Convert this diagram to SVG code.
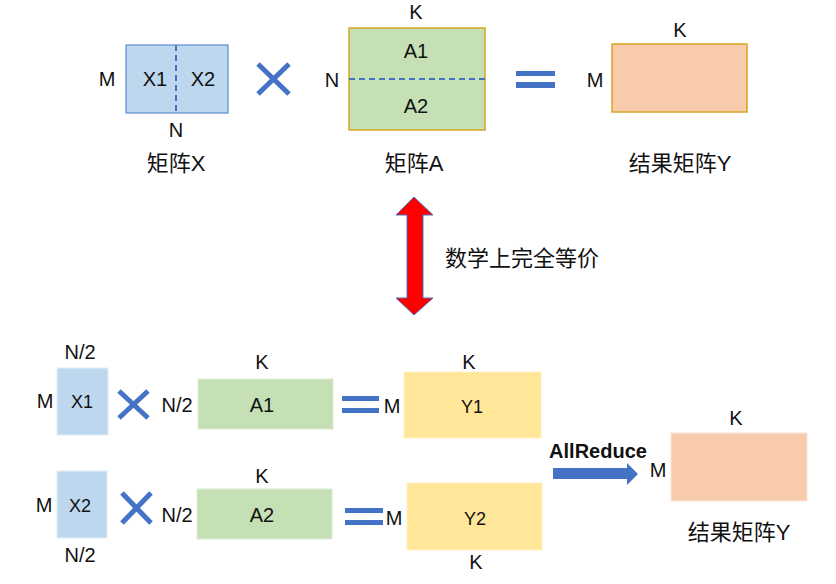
<svg xmlns="http://www.w3.org/2000/svg" width="836" height="584" viewBox="0 0 836 584">
<style>
text{font-family:"Liberation Sans",Arial,"Noto Sans CJK SC",sans-serif;fill:#111;text-anchor:middle}
.lb{font-size:20px}
.sm{font-size:18px}
.cj{font-size:22px}
.bx{fill:#BDD7EE}
.ga{fill:#C5E0B4}
.ya{fill:#FFE699}
.ra{fill:#F8CBAD}
.cross{stroke:#4472C4;stroke-width:5;fill:none}
.eq{fill:#4472C4}
.dash{stroke:#4472C4;stroke-width:2;stroke-dasharray:6 4;fill:none}
.soft{stroke:#E4EEF8;stroke-width:1}
</style>
<rect width="836" height="584" fill="#fff"/>

<g id="matrixX">
<rect x="126" y="45" width="102" height="68" class="bx" stroke="#5B8BD0" stroke-width="1.2"/>
<line x1="176" y1="45" x2="176" y2="113" class="dash"/>
<text x="107" y="86" class="lb">M</text>
<text x="155" y="86" class="lb">X1</text>
<text x="203" y="86" class="lb">X2</text>
<text x="176" y="137" class="lb">N</text>
<text x="176" y="171" class="cj">矩阵X</text>
</g>

<g id="times1">
<line x1="258" y1="64" x2="289" y2="94" class="cross"/>
<line x1="258" y1="94" x2="289" y2="64" class="cross"/>
</g>

<g id="matrixA">
<rect x="349" y="28" width="136" height="102" class="ga" stroke="#D6A520" stroke-width="1.5"/>
<line x1="349" y1="79" x2="485" y2="79" class="dash"/>
<text x="416" y="19" class="lb">K</text>
<text x="416" y="58" class="lb">A1</text>
<text x="416" y="113" class="lb">A2</text>
<text x="332" y="87" class="lb">N</text>
<text x="414" y="171" class="cj">矩阵A</text>
</g>

<g id="equals1">
<rect x="516" y="71" width="39" height="5" class="eq"/>
<rect x="516" y="82" width="39" height="6" class="eq"/>
</g>

<g id="resultY">
<rect x="612" y="44" width="135" height="68" class="ra" stroke="#D6A520" stroke-width="1.5"/>
<text x="680" y="37" class="lb">K</text>
<text x="595" y="87" class="lb">M</text>
<text x="680" y="171" class="cj">结果矩阵Y</text>
</g>

<g id="equivArrow">
<polygon points="414,197 433,215 423,215 423,298 433,298 414,315 396,298 407,298 407,215 396,215" fill="#FF0000" stroke="#4472C4" stroke-width="1"/>
<text x="445" y="266" class="cj" style="text-anchor:start">数学上完全等价</text>
</g>

<g id="X1">
<rect x="57" y="368" width="51" height="67" class="bx soft"/>
<text x="80" y="359" class="lb">N/2</text>
<text x="45" y="408" class="lb">M</text>
<text x="82" y="408" class="sm">X1</text>
</g>

<g id="times2">
<line x1="119" y1="391" x2="148" y2="418" class="cross"/>
<line x1="119" y1="418" x2="148" y2="391" class="cross"/>
</g>

<g id="A1">
<rect x="198" y="379" width="135" height="50" class="ga" stroke="#DDEBD3" stroke-width="1"/>
<text x="177" y="412" class="lb">N/2</text>
<text x="262" y="369" class="lb">K</text>
<text x="262" y="412" class="lb">A1</text>
</g>

<g id="equals2">
<rect x="342" y="396" width="37" height="5" class="eq"/>
<rect x="342" y="408" width="37" height="5" class="eq"/>
</g>

<g id="Y1">
<rect x="404" y="372" width="137" height="66" class="ya" stroke="#FFF0C0" stroke-width="1"/>
<text x="469" y="369" class="lb">K</text>
<text x="392" y="413" class="lb">M</text>
<text x="472" y="413" class="sm">Y1</text>
</g>

<g id="X2">
<rect x="57" y="471" width="50" height="67" class="bx soft"/>
<text x="44" y="512" class="lb">M</text>
<text x="80" y="512" class="sm">X2</text>
<text x="80" y="562" class="lb">N/2</text>
</g>

<g id="times3">
<line x1="122" y1="493" x2="151" y2="523" class="cross"/>
<line x1="122" y1="523" x2="151" y2="493" class="cross"/>
</g>

<g id="A2">
<rect x="197" y="489" width="135" height="50" class="ga" stroke="#DDEBD3" stroke-width="1"/>
<text x="177" y="522" class="lb">N/2</text>
<text x="262" y="483" class="lb">K</text>
<text x="262" y="522" class="lb">A2</text>
</g>

<g id="equals3">
<rect x="345" y="508" width="38" height="5" class="eq"/>
<rect x="345" y="520" width="38" height="5" class="eq"/>
</g>

<g id="Y2">
<rect x="407" y="483" width="135" height="67" class="ya" stroke="#FFF0C0" stroke-width="1"/>
<text x="394" y="525" class="lb">M</text>
<text x="475" y="525" class="sm">Y2</text>
<text x="476" y="569" class="lb">K</text>
</g>

<g id="connectors">
<polygon points="553,468 627,468 627,463 638,474 627,485 627,479 553,479" fill="#4472C4"/>
<text x="598" y="458" style="font-size:20px;font-weight:bold">AllReduce</text>
</g>

<g id="resultY2">
<rect x="671" y="433" width="136" height="68" class="ra" stroke="#FBE3D4" stroke-width="1"/>
<text x="736" y="425" class="lb">K</text>
<text x="658" y="477" class="lb">M</text>
<text x="739" y="540" class="cj">结果矩阵Y</text>
</g>
</svg>
